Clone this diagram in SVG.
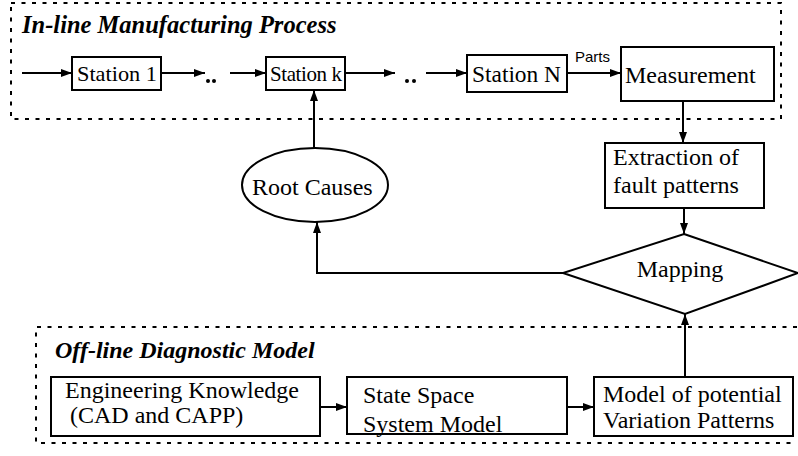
<svg xmlns="http://www.w3.org/2000/svg" width="798" height="456" viewBox="0 0 798 456">
<defs>
<marker id="ah" markerUnits="userSpaceOnUse" markerWidth="12" markerHeight="10" refX="11" refY="4" orient="auto">
<path d="M0,0 L11,4 L0,8 Z" fill="#000"/>
</marker>
<style>
.box{fill:#fff;stroke:#000;stroke-width:2}
.ln{fill:none;stroke:#000;stroke-width:2}
.dot{fill:none;stroke:#000;stroke-width:2;stroke-dasharray:4 6.5}
.t{font-size:24px;fill:#000}
.st{font-size:22px;fill:#000}
.ti{font-size:24.5px;font-weight:bold;font-style:italic;fill:#000}
.s{font-size:15px;fill:#000}
</style>
</defs>
<rect width="798" height="456" fill="#fff"/>
<g id="inline-frame">
<rect x="11" y="3" width="770" height="116" class="dot"/>
<text x="22" y="33" class="ti" font-family="Liberation Serif, Times New Roman, serif">In-line Manufacturing Process</text>
</g>
<g id="offline-frame">
<path d="M797,327 H36 V443 H797" class="dot"/>
<text x="55" y="358" class="ti" font-family="Liberation Serif, Times New Roman, serif" style="font-size:24px">Off-line Diagnostic Model</text>
</g>
<g id="connectors">
<line x1="22" y1="73" x2="72" y2="73" class="ln" marker-end="url(#ah)"/>
<line x1="161" y1="73" x2="205" y2="73" class="ln" marker-end="url(#ah)"/>
<line x1="230" y1="73" x2="266" y2="73" class="ln" marker-end="url(#ah)"/>
<line x1="345" y1="73" x2="395" y2="73" class="ln" marker-end="url(#ah)"/>
<line x1="426" y1="73" x2="467" y2="73" class="ln" marker-end="url(#ah)"/>
<line x1="567" y1="73" x2="621" y2="73" class="ln" marker-end="url(#ah)"/>
<line x1="683" y1="101" x2="683" y2="143" class="ln" marker-end="url(#ah)"/>
<line x1="684" y1="208" x2="684" y2="234" class="ln" marker-end="url(#ah)"/>
<line x1="685" y1="377" x2="685" y2="314" class="ln" marker-end="url(#ah)"/>
<polyline points="563,273 317,273 317,222" class="ln" marker-end="url(#ah)"/>
<line x1="314" y1="148" x2="314" y2="90" class="ln" marker-end="url(#ah)"/>
<line x1="320" y1="407" x2="347" y2="407" class="ln" marker-end="url(#ah)"/>
<line x1="567" y1="407" x2="594" y2="407" class="ln" marker-end="url(#ah)"/>
<circle cx="208" cy="81" r="2"/>
<circle cx="214" cy="81" r="2"/>
<circle cx="407" cy="81" r="2"/>
<circle cx="414" cy="81" r="2"/>
<text x="575" y="62" class="s" font-family="Liberation Sans, Arial, sans-serif">Parts</text>
</g>
<g font-family="Liberation Serif, Times New Roman, serif">
<g id="station1">
<rect x="72" y="57" width="89" height="33" class="box"/>
<text x="77" y="81" class="st" textLength="80" lengthAdjust="spacingAndGlyphs">Station 1</text>
</g>
<g id="stationk">
<rect x="266" y="57" width="79" height="33" class="box"/>
<text x="270" y="81" class="st" style="font-size:21px" textLength="72" lengthAdjust="spacing">Station k</text>
</g>
<g id="stationN">
<rect x="467" y="55" width="100" height="37" class="box"/>
<text x="472" y="82" class="t" textLength="89" lengthAdjust="spacingAndGlyphs">Station N</text>
</g>
<g id="measurement">
<rect x="621" y="47" width="153" height="54" class="box"/>
<text x="625" y="83" class="t">Measurement</text>
</g>
<g id="extraction">
<rect x="605" y="143" width="159" height="65" class="box"/>
<text x="613" y="165" class="t">Extraction of</text>
<text x="613" y="193" class="t">fault patterns</text>
</g>
<g id="mapping">
<polygon points="684,234 798,273 685,314 563,273" class="box"/>
<text x="680" y="277" class="t" text-anchor="middle">Mapping</text>
</g>
<g id="rootcauses">
<ellipse cx="315" cy="185" rx="73" ry="37" class="box"/>
<text x="252" y="195" class="t">Root Causes</text>
</g>
<g id="engineering">
<rect x="51" y="377" width="269" height="59" class="box"/>
<text x="65" y="398" class="t">Engineering Knowledge</text>
<text x="70" y="423" class="t">(CAD and CAPP)</text>
</g>
<g id="statespace">
<rect x="347" y="377" width="220" height="57" class="box"/>
<text x="363" y="403" class="t">State Space</text>
<text x="363" y="432" class="t">System Model</text>
</g>
<g id="model">
<rect x="594" y="377" width="199" height="59" class="box"/>
<text x="603" y="402" class="t">Model of potential</text>
<text x="603" y="428" class="t">Variation Patterns</text>
</g>
</g>
</svg>
